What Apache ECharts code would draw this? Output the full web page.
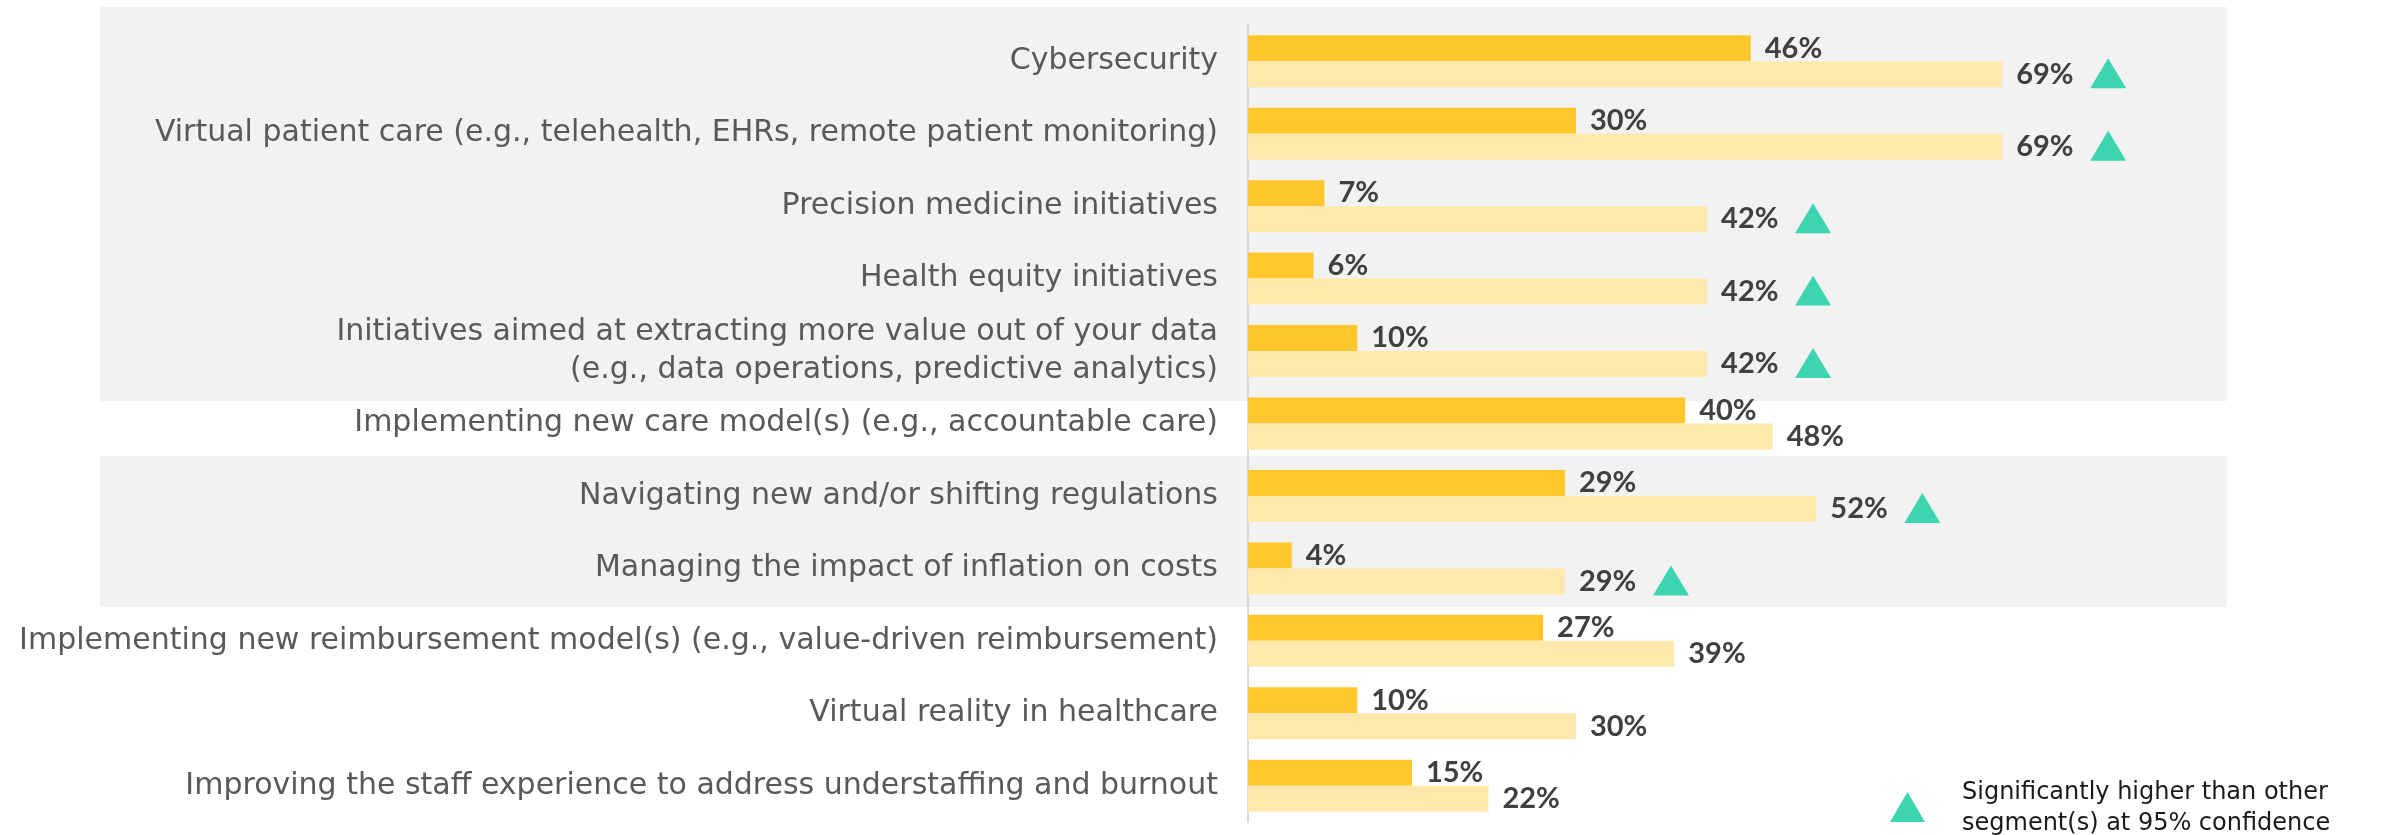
<!DOCTYPE html>
<html>
<head>
<meta charset="utf-8">
<script src="https://cdn.jsdelivr.net/npm/echarts@6/dist/echarts.min.js"></script>
<style>
  html, body { margin: 0; padding: 0; background: #ffffff; }
  #chart { width: 2386px; height: 835px; }
</style>
</head>
<body>
<div id="chart"></div>
<script>
var categories = [
  'Cybersecurity',
  'Virtual patient care (e.g., telehealth, EHRs, remote patient monitoring)',
  'Precision medicine initiatives',
  'Health equity initiatives',
  'Initiatives aimed at extracting more value out of your data\n(e.g., data operations, predictive analytics)',
  'Implementing new care model(s) (e.g., accountable care)',
  'Navigating new and/or shifting regulations',
  'Managing the impact of inflation on costs',
  'Implementing new reimbursement model(s) (e.g., value-driven reimbursement)',
  'Virtual reality in healthcare',
  'Improving the staff experience to address understaffing and burnout'
];
var otherValues   = [46, 30, 7, 6, 10, 40, 29, 4, 27, 10, 15];
var segmentValues = [69, 69, 42, 42, 42, 48, 52, 29, 39, 30, 22];
// 1 = significantly higher than other segment(s)
var sigFlags      = [1, 1, 1, 1, 1, 0, 1, 1, 0, 0, 0];
var legendText = 'Significantly higher than other\nsegment(s) at 95% confidence';

var sigPoints = [];
for (var i = 0; i < categories.length; i++) {
  if (sigFlags[i]) sigPoints.push([segmentValues[i], i]);
}

var myChart = echarts.init(document.getElementById('chart'));

var valueLabel = {
  show: true,
  position: 'right',
  distance: 14,
  formatter: '{c}%',
  color: '#404040',
  fontFamily: 'Lato',
  fontWeight: 'bold',
  fontSize: 29
};

var option = {
  animation: false,
  backgroundColor: '#ffffff',
  grid: { left: 1248, top: 25, width: 1093, height: 797 },
  xAxis: { type: 'value', min: 0, max: 100, show: false },
  yAxis: {
    type: 'category',
    inverse: true,
    data: categories,
    axisLine: { show: true, lineStyle: { color: '#d9d9d9', width: 2 } },
    axisTick: { show: false },
    axisLabel: {
      margin: 30,
      color: '#595959',
      fontFamily: 'DejaVu Sans',
      fontSize: 30,
      lineHeight: 38
    }
  },
  graphic: [
    { type: 'rect', z: -1, shape: { x: 100, y: 7, width: 2127, height: 394 }, style: { fill: '#f2f2f2' } },
    { type: 'rect', z: -1, shape: { x: 100, y: 456, width: 2127, height: 151 }, style: { fill: '#f2f2f2' } },
    { type: 'polygon', shape: { points: [[1890, 822], [1907.5, 792], [1925, 822]] }, style: { fill: '#3dd5b0' } },
    { type: 'text', x: 1962, y: 777, style: { text: legendText, fill: '#1a1a1a', fontFamily: 'DejaVu Sans', fontSize: 24, lineHeight: 31 } }
  ],
  series: [
    {
      name: 'Other segment(s)',
      type: 'bar',
      data: otherValues,
      barWidth: 26,
      barGap: '0%',
      itemStyle: { color: '#ffc72c' },
      label: valueLabel
    },
    {
      name: 'Segment',
      type: 'bar',
      data: segmentValues,
      barWidth: 26,
      itemStyle: { color: '#ffe8ac' },
      label: valueLabel
    },
    {
      name: 'Significant',
      type: 'scatter',
      data: sigPoints,
      symbol: 'triangle',
      symbolSize: [36, 30],
      symbolOffset: [106, 12],
      itemStyle: { color: '#3dd5b0', opacity: 1 },
      z: 5
    }
  ]
};
myChart.setOption(option);
</script>
</body>
</html>
